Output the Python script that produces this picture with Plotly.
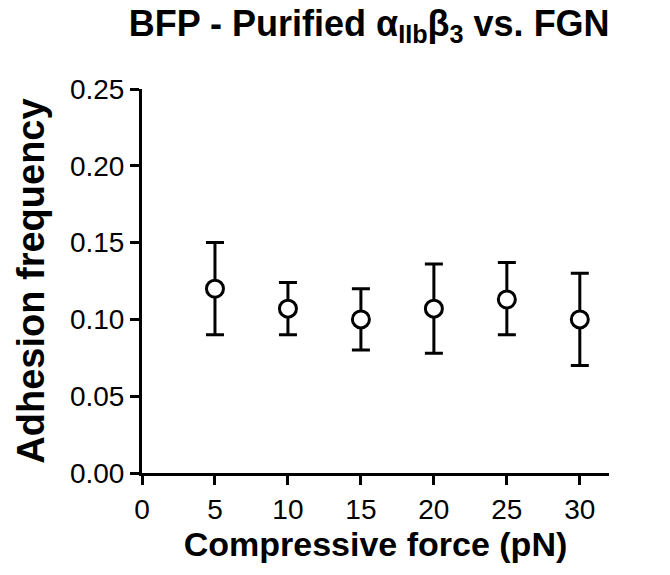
import plotly.graph_objects as go

force = [5, 10, 15, 20, 25, 30]
adhesion = [0.120, 0.107, 0.100, 0.107, 0.113, 0.100]
err_upper = [0.150, 0.124, 0.120, 0.136, 0.137, 0.130]
err_lower = [0.090, 0.090, 0.080, 0.078, 0.090, 0.070]

x_ticks = [0, 5, 10, 15, 20, 25, 30]
y_ticks = [0.00, 0.05, 0.10, 0.15, 0.20, 0.25]
y_ticklabels = ["0.00", "0.05", "0.10", "0.15", "0.20", "0.25"]

plus = [u - m for u, m in zip(err_upper, adhesion)]
minus = [m - l for m, l in zip(adhesion, err_lower)]

FONT = "Liberation Sans, Arial, sans-serif"

fig = go.Figure(go.Scatter(
    x=force, y=adhesion, mode="markers",
    marker=dict(symbol="circle", size=17, color="white",
                line=dict(color="black", width=3)),
    error_y=dict(type="data", symmetric=False, array=plus, arrayminus=minus,
                 color="black", thickness=3, width=9),
    showlegend=False,
))

fig.update_layout(
    width=670, height=575,
    margin=dict(l=142, r=61, t=89, b=102),
    plot_bgcolor="white", paper_bgcolor="white",
    font=dict(family=FONT, color="black"),
    title=dict(text="<b>BFP - Purified α<sub>IIb</sub>β<sub>3</sub> vs. FGN</b>",
               font=dict(size=36, family=FONT, color="black"),
               x=0.551, xanchor="center", y=0.982, yanchor="top"),
    xaxis=dict(range=[0, 32], tickvals=x_ticks, ticktext=[str(v) for v in x_ticks],
               showline=True, linecolor="black", linewidth=3,
               ticks="outside", ticklen=9, tickwidth=3, tickcolor="black",
               showgrid=False, zeroline=False,
               tickfont=dict(size=28, family=FONT),
               title=dict(text="<b>Compressive force (pN)</b>",
                          font=dict(size=34, family=FONT), standoff=6)),
    yaxis=dict(range=[0, 0.25], tickvals=y_ticks, ticktext=y_ticklabels,
               showline=True, linecolor="black", linewidth=3,
               ticks="outside", ticklen=9, tickwidth=3, tickcolor="black",
               showgrid=False, zeroline=False,
               tickfont=dict(size=28, family=FONT),
               title=dict(text="<b>Adhesion frequency</b>",
                          font=dict(size=38, family=FONT), standoff=14)),
)

fig.write_html("out.html")
